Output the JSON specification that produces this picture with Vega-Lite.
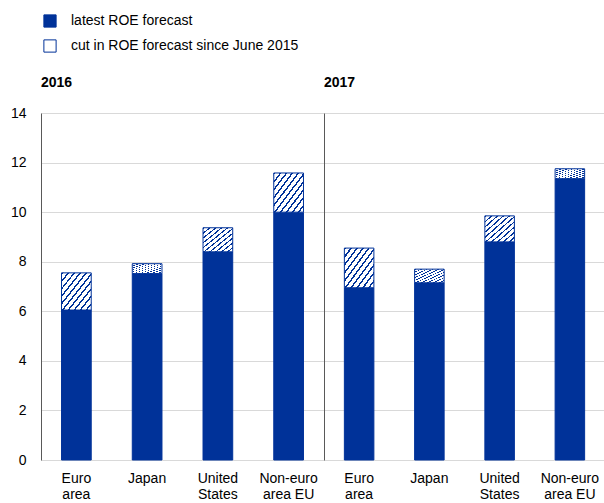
{
  "$schema": "https://vega.github.io/schema/vega-lite/v6.json",
  "padding": {"left": 10, "top": 14, "right": 0, "bottom": 0},
  "background": "white",
  "data": {"values": [
    {"year": "2016", "region": "Euro area", "series": "latest ROE forecast", "value": 6.05},
    {"year": "2016", "region": "Euro area", "series": "cut in ROE forecast since June 2015", "value": 1.5},
    {"year": "2016", "region": "Japan", "series": "latest ROE forecast", "value": 7.52},
    {"year": "2016", "region": "Japan", "series": "cut in ROE forecast since June 2015", "value": 0.4},
    {"year": "2016", "region": "United States", "series": "latest ROE forecast", "value": 8.4},
    {"year": "2016", "region": "United States", "series": "cut in ROE forecast since June 2015", "value": 0.97},
    {"year": "2016", "region": "Non-euro area EU", "series": "latest ROE forecast", "value": 10.0},
    {"year": "2016", "region": "Non-euro area EU", "series": "cut in ROE forecast since June 2015", "value": 1.58},
    {"year": "2017", "region": "Euro area", "series": "latest ROE forecast", "value": 6.95},
    {"year": "2017", "region": "Euro area", "series": "cut in ROE forecast since June 2015", "value": 1.6},
    {"year": "2017", "region": "Japan", "series": "latest ROE forecast", "value": 7.15},
    {"year": "2017", "region": "Japan", "series": "cut in ROE forecast since June 2015", "value": 0.55},
    {"year": "2017", "region": "United States", "series": "latest ROE forecast", "value": 8.8},
    {"year": "2017", "region": "United States", "series": "cut in ROE forecast since June 2015", "value": 1.05},
    {"year": "2017", "region": "Non-euro area EU", "series": "latest ROE forecast", "value": 11.35},
    {"year": "2017", "region": "Non-euro area EU", "series": "cut in ROE forecast since June 2015", "value": 0.4}
  ]},
  "spacing": 0,
  "hconcat": [
    {
      "width": 283,
      "height": 347,
      "title": {"text": "2016", "offset": 16},
      "transform": [{"filter": "datum.year === '2016'"}],
      "mark": {"type": "bar", "stroke": "#003299", "strokeWidth": 1},
      "encoding": {
        "x": {"field": "region", "type": "nominal", "sort": ["Euro area", "Japan", "United States", "Non-euro area EU"],
              "scale": {"paddingInner": 0.58, "paddingOuter": 0.29},
              "axis": {"title": null, "labelAngle": 0, "ticks": false, "domain": false, "labelPadding": 11,
                       "labelExpr": "datum.value === 'Euro area' ? ['Euro','area'] : datum.value === 'United States' ? ['United','States'] : datum.value === 'Non-euro area EU' ? ['Non-euro','area EU'] : datum.value"}},
        "y": {"field": "value", "type": "quantitative", "stack": "zero",
              "scale": {"domain": [0, 14]},
              "axis": {"title": null, "values": [0, 2, 4, 6, 8, 10, 12, 14], "ticks": false, "labelPadding": 15, "domain": true}},
        "order": {"field": "series", "sort": "descending"},
        "fill": {"field": "series", "type": "nominal",
                 "scale": {"domain": ["latest ROE forecast", "cut in ROE forecast since June 2015"], "range": ["#003299", "#ffffff"]},
                 "legend": {"title": null, "orient": "none", "legendX": 2, "legendY": -99, "direction": "vertical",
                            "symbolType": "square", "symbolSize": 150, "symbolStrokeColor": "#003299", "symbolStrokeWidth": 1,
                            "labelFontSize": 14, "labelOffset": 14, "rowPadding": 7, "labelColor": "#000", "labelLimit": 400},
                 "condition": {"test": "datum.series === 'cut in ROE forecast since June 2015'", "value": {"gradient": "linear", "x1": 0, "y1": 0, "x2": 1, "y2": 1, "stops": [
                   {"offset": 0, "color": "#003299"}, {"offset": 0.03, "color": "#003299"}, {"offset": 0.03, "color": "#ffffff"}, {"offset": 0.1, "color": "#ffffff"},
                   {"offset": 0.1, "color": "#003299"}, {"offset": 0.13, "color": "#003299"}, {"offset": 0.13, "color": "#ffffff"}, {"offset": 0.2, "color": "#ffffff"},
                   {"offset": 0.2, "color": "#003299"}, {"offset": 0.23, "color": "#003299"}, {"offset": 0.23, "color": "#ffffff"}, {"offset": 0.3, "color": "#ffffff"},
                   {"offset": 0.3, "color": "#003299"}, {"offset": 0.33, "color": "#003299"}, {"offset": 0.33, "color": "#ffffff"}, {"offset": 0.4, "color": "#ffffff"},
                   {"offset": 0.4, "color": "#003299"}, {"offset": 0.43, "color": "#003299"}, {"offset": 0.43, "color": "#ffffff"}, {"offset": 0.5, "color": "#ffffff"},
                   {"offset": 0.5, "color": "#003299"}, {"offset": 0.53, "color": "#003299"}, {"offset": 0.53, "color": "#ffffff"}, {"offset": 0.6, "color": "#ffffff"},
                   {"offset": 0.6, "color": "#003299"}, {"offset": 0.63, "color": "#003299"}, {"offset": 0.63, "color": "#ffffff"}, {"offset": 0.7, "color": "#ffffff"},
                   {"offset": 0.7, "color": "#003299"}, {"offset": 0.73, "color": "#003299"}, {"offset": 0.73, "color": "#ffffff"}, {"offset": 0.8, "color": "#ffffff"},
                   {"offset": 0.8, "color": "#003299"}, {"offset": 0.83, "color": "#003299"}, {"offset": 0.83, "color": "#ffffff"}, {"offset": 0.9, "color": "#ffffff"},
                   {"offset": 0.9, "color": "#003299"}, {"offset": 0.93, "color": "#003299"}, {"offset": 0.93, "color": "#ffffff"}, {"offset": 1, "color": "#ffffff"}
                 ]}}}
      }
    },
    {
      "width": 281,
      "height": 347,
      "title": {"text": "2017", "offset": 23},
      "transform": [{"filter": "datum.year === '2017'"}],
      "mark": {"type": "bar", "stroke": "#003299", "strokeWidth": 1},
      "encoding": {
        "x": {"field": "region", "type": "nominal", "sort": ["Euro area", "Japan", "United States", "Non-euro area EU"],
              "scale": {"paddingInner": 0.58, "paddingOuter": 0.29},
              "axis": {"title": null, "labelAngle": 0, "ticks": false, "domain": false, "labelPadding": 11,
                       "labelExpr": "datum.value === 'Euro area' ? ['Euro','area'] : datum.value === 'United States' ? ['United','States'] : datum.value === 'Non-euro area EU' ? ['Non-euro','area EU'] : datum.value"}},
        "y": {"field": "value", "type": "quantitative", "stack": "zero",
              "scale": {"domain": [0, 14]},
              "axis": {"title": null, "values": [0, 2, 4, 6, 8, 10, 12, 14], "ticks": false, "labels": false, "domain": true}},
        "order": {"field": "series", "sort": "descending"},
        "fill": {"field": "series", "type": "nominal",
                 "scale": {"domain": ["latest ROE forecast", "cut in ROE forecast since June 2015"], "range": ["#003299", "#ffffff"]},
                 "condition": {"test": "datum.series === 'cut in ROE forecast since June 2015'", "value": {"gradient": "linear", "x1": 0, "y1": 0, "x2": 1, "y2": 1, "stops": [
                   {"offset": 0, "color": "#003299"}, {"offset": 0.03, "color": "#003299"}, {"offset": 0.03, "color": "#ffffff"}, {"offset": 0.1, "color": "#ffffff"},
                   {"offset": 0.1, "color": "#003299"}, {"offset": 0.13, "color": "#003299"}, {"offset": 0.13, "color": "#ffffff"}, {"offset": 0.2, "color": "#ffffff"},
                   {"offset": 0.2, "color": "#003299"}, {"offset": 0.23, "color": "#003299"}, {"offset": 0.23, "color": "#ffffff"}, {"offset": 0.3, "color": "#ffffff"},
                   {"offset": 0.3, "color": "#003299"}, {"offset": 0.33, "color": "#003299"}, {"offset": 0.33, "color": "#ffffff"}, {"offset": 0.4, "color": "#ffffff"},
                   {"offset": 0.4, "color": "#003299"}, {"offset": 0.43, "color": "#003299"}, {"offset": 0.43, "color": "#ffffff"}, {"offset": 0.5, "color": "#ffffff"},
                   {"offset": 0.5, "color": "#003299"}, {"offset": 0.53, "color": "#003299"}, {"offset": 0.53, "color": "#ffffff"}, {"offset": 0.6, "color": "#ffffff"},
                   {"offset": 0.6, "color": "#003299"}, {"offset": 0.63, "color": "#003299"}, {"offset": 0.63, "color": "#ffffff"}, {"offset": 0.7, "color": "#ffffff"},
                   {"offset": 0.7, "color": "#003299"}, {"offset": 0.73, "color": "#003299"}, {"offset": 0.73, "color": "#ffffff"}, {"offset": 0.8, "color": "#ffffff"},
                   {"offset": 0.8, "color": "#003299"}, {"offset": 0.83, "color": "#003299"}, {"offset": 0.83, "color": "#ffffff"}, {"offset": 0.9, "color": "#ffffff"},
                   {"offset": 0.9, "color": "#003299"}, {"offset": 0.93, "color": "#003299"}, {"offset": 0.93, "color": "#ffffff"}, {"offset": 1, "color": "#ffffff"}
                 ]}}}
      }
    }
  ],
  "config": {
    "font": "Liberation Sans",
    "view": {"stroke": null},
    "axis": {"labelFontSize": 14, "labelColor": "#000", "gridColor": "#d9d9d9", "domainColor": "#595959", "labelFont": "Liberation Sans"},
    "title": {"anchor": "start", "frame": "group", "fontSize": 14, "fontWeight": "bold", "color": "#000", "font": "Liberation Sans"},
    "legend": {"labelFont": "Liberation Sans"}
  }
}
